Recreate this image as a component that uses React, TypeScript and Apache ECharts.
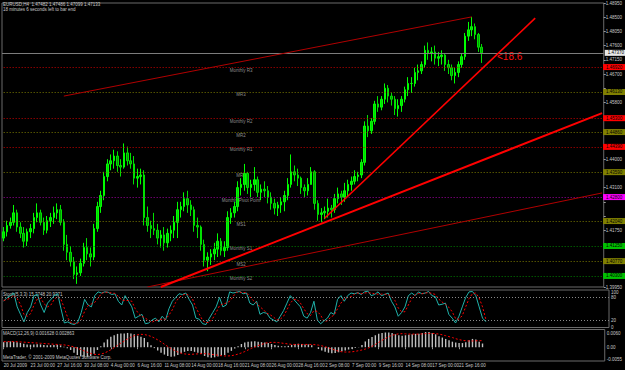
import React, { useEffect, useRef } from "react";
import * as echarts from "echarts";

// ---------- price data (8-hour bars, 20 Jul 08:00 .. 24 Sep 00:00) ----------
const firstOpen = 1.415;
const closes = [
  1.4170, 1.4190,
  1.4200, 1.4230, 1.4185, 1.4165, 1.4140, 1.4170, 1.4180, 1.4215, 1.4230, 1.4200, 1.4175, 1.4205,
  1.4215, 1.4230, 1.4240, 1.4200, 1.4130, 1.4105, 1.4075, 1.4035, 1.4040, 1.4070, 1.4120, 1.4100, 1.4090, 1.4180, 1.4250,
  1.4285, 1.4345, 1.4385, 1.4395, 1.4410, 1.4380, 1.4375, 1.4420, 1.4395, 1.4385, 1.4340, 1.4345, 1.4350, 1.4215, 1.4190,
  1.4180, 1.4175, 1.4150, 1.4160, 1.4135, 1.4165, 1.4175, 1.4200, 1.4240, 1.4250, 1.4275, 1.4255, 1.4240, 1.4190, 1.4185,
  1.4130, 1.4080, 1.4090, 1.4100, 1.4115, 1.4140, 1.4110, 1.4120, 1.4215, 1.4230, 1.4250, 1.4310, 1.4320, 1.4355, 1.4310,
  1.4320, 1.4335, 1.4295, 1.4305, 1.4300, 1.4280, 1.4260, 1.4245, 1.4255, 1.4265, 1.4285, 1.4320, 1.4360, 1.4350, 1.4340,
  1.4310, 1.4300, 1.4320, 1.4360, 1.4260, 1.4225, 1.4230, 1.4235, 1.4245, 1.4240, 1.4275, 1.4290, 1.4280, 1.4300, 1.4320,
  1.4330, 1.4345, 1.4350, 1.4390, 1.4505, 1.4490, 1.4520, 1.4575, 1.4565, 1.4590, 1.4625, 1.4600, 1.4590, 1.4560, 1.4570,
  1.4590, 1.4620, 1.4640, 1.4640, 1.4675, 1.4680, 1.4700, 1.4745, 1.4735, 1.4740, 1.4720, 1.4725, 1.4730, 1.4700, 1.4690,
  1.4665, 1.4675, 1.4700, 1.4725, 1.4790, 1.4810, 1.4820, 1.4795, 1.4755,
  1.4737,
];
const highs = [
  1.4185, 1.4205,
  1.4215, 1.4255, 1.4240, 1.4200, 1.4185, 1.4180, 1.4195, 1.4230, 1.4260, 1.4240, 1.4215, 1.4220,
  1.4230, 1.4250, 1.4260, 1.4255, 1.4210, 1.4160, 1.4125, 1.4090, 1.4060, 1.4085, 1.4135, 1.4150, 1.4120, 1.4195, 1.4265,
  1.4300, 1.4360, 1.4400, 1.4415, 1.4430, 1.4425, 1.4400, 1.4450, 1.4440, 1.4420, 1.4410, 1.4370, 1.4370, 1.4365, 1.4250,
  1.4205, 1.4230, 1.4195, 1.4175, 1.4185, 1.4180, 1.4190, 1.4220, 1.4265, 1.4265, 1.4295, 1.4300, 1.4270, 1.4250, 1.4215,
  1.4190, 1.4145, 1.4105, 1.4115, 1.4135, 1.4165, 1.4150, 1.4140, 1.4235, 1.4245, 1.4265, 1.4330, 1.4340, 1.4385, 1.4360,
  1.4335, 1.4375, 1.4345, 1.4320, 1.4330, 1.4315, 1.4295, 1.4275, 1.4265, 1.4280, 1.4300, 1.4340, 1.4415, 1.4380, 1.4370,
  1.4345, 1.4320, 1.4340, 1.4375, 1.4365, 1.4270, 1.4245, 1.4250, 1.4275, 1.4255, 1.4290, 1.4310, 1.4300, 1.4325, 1.4335,
  1.4345, 1.4365, 1.4360, 1.4400, 1.4520, 1.4540, 1.4530, 1.4585, 1.4600, 1.4600, 1.4640, 1.4635, 1.4610, 1.4600, 1.4590,
  1.4600, 1.4630, 1.4660, 1.4660, 1.4690, 1.4700, 1.4710, 1.4760, 1.4770, 1.4755, 1.4760, 1.4740, 1.4745, 1.4735, 1.4715,
  1.4700, 1.4690, 1.4710, 1.4735, 1.4800, 1.4835, 1.4851, 1.4830, 1.4800,
  1.4765,
];
const lows = [
  1.4140, 1.4155,
  1.4180, 1.4190, 1.4170, 1.4150, 1.4120, 1.4125, 1.4150, 1.4165, 1.4200, 1.4190, 1.4160, 1.4165,
  1.4185, 1.4195, 1.4210, 1.4190, 1.4110, 1.4080, 1.4060, 1.4020, 1.4005, 1.4030, 1.4060, 1.4080, 1.4060, 1.4080, 1.4170,
  1.4230, 1.4270, 1.4330, 1.4365, 1.4370, 1.4360, 1.4345, 1.4370, 1.4380, 1.4370, 1.4320, 1.4310, 1.4320, 1.4190, 1.4170,
  1.4150, 1.4160, 1.4130, 1.4120, 1.4110, 1.4120, 1.4140, 1.4150, 1.4150, 1.4215, 1.4235, 1.4230, 1.4220, 1.4170, 1.4150,
  1.4110, 1.4060, 1.4045, 1.4065, 1.4080, 1.4090, 1.4095, 1.4090, 1.4110, 1.4195, 1.4215, 1.4235, 1.4285, 1.4300, 1.4290,
  1.4280, 1.4300, 1.4280, 1.4270, 1.4280, 1.4260, 1.4240, 1.4225, 1.4220, 1.4230, 1.4235, 1.4270, 1.4310, 1.4330, 1.4315,
  1.4290, 1.4280, 1.4285, 1.4320, 1.4240, 1.4205, 1.4200, 1.4210, 1.4215, 1.4215, 1.4230, 1.4260, 1.4255, 1.4265, 1.4280,
  1.4300, 1.4320, 1.4330, 1.4340, 1.4380, 1.4470, 1.4480, 1.4510, 1.4550, 1.4555, 1.4575, 1.4580, 1.4570, 1.4540, 1.4535,
  1.4550, 1.4580, 1.4600, 1.4610, 1.4630, 1.4650, 1.4670, 1.4690, 1.4715, 1.4710, 1.4700, 1.4695, 1.4700, 1.4680, 1.4670,
  1.4650, 1.4640, 1.4660, 1.4690, 1.4715, 1.4775, 1.4790, 1.4780, 1.4740,
  1.4705,
];

// ---------- Stochastic(5,3,3) ----------
const stochMain = [
  70, 80, 85, 92, 55, 35, 15, 40, 55, 85, 88, 60,
  40, 65, 75, 85, 90, 50, 12, 15, 10, 8, 15, 40,
  75, 60, 55, 85, 95, 92, 95, 94, 88, 90, 70, 60,
  85, 70, 55, 25, 30, 35, 10, 12, 20, 25, 15, 30,
  20, 50, 70, 80, 90, 88, 92, 75, 60, 25, 22, 10,
  8, 25, 40, 55, 80, 55, 60, 95, 92, 94, 96, 90,
  92, 65, 60, 70, 35, 40, 38, 25, 20, 15, 30, 45,
  65, 85, 75, 65, 55, 30, 25, 40, 70, 20, 10, 18,
  25, 40, 35, 75, 85, 70, 85, 92, 90, 93, 88, 95,
  97, 85, 88, 95, 85, 88, 92, 70, 55, 30, 40, 55,
  85, 92, 85, 95, 90, 92, 96, 85, 82, 60, 62, 65,
  35, 25, 12, 30, 55, 80, 95, 96, 85, 55, 25, 15.37,
];
const stochSignal = [
  72, 75, 78, 86, 77, 61, 35, 30, 37, 60, 76, 78,
  63, 55, 60, 75, 83, 75, 51, 26, 12, 11, 11, 21,
  43, 58, 63, 67, 78, 91, 94, 94, 92, 91, 83, 73,
  72, 72, 70, 50, 37, 30, 25, 19, 14, 19, 20, 23,
  22, 33, 47, 67, 80, 86, 90, 85, 76, 53, 36, 19,
  13, 14, 24, 40, 58, 63, 65, 70, 82, 94, 94, 93,
  93, 82, 72, 65, 55, 48, 38, 34, 28, 20, 22, 30,
  47, 65, 75, 75, 65, 50, 37, 32, 45, 43, 33, 16,
  18, 28, 33, 50, 65, 77, 80, 82, 89, 92, 90, 92,
  93, 92, 90, 89, 89, 89, 88, 83, 72, 52, 42, 42,
  60, 77, 87, 91, 90, 92, 93, 91, 88, 76, 68, 62,
  54, 42, 24, 22, 32, 55, 77, 90, 92, 79, 55, 20.94,
];

// ---------- MACD(12,26,9), in units of 0.0001 ----------
const macdMain = [
  22, 24, 25, 24, 22, 19, 15, 12, 11, 12, 13, 12,
  10, 9, 9, 10, 11, 8, 2, -5, -12,
  -24, -34, -40, -44, -42, -38, -28,
  -12, 4, 20, 34, 45, 52, 58, 60, 60, 62, 60, 56, 50,
  46, 40, 22, 8, -4, -14, -24, -32,
  -38, -42, -40, -34, -26, -20, -16,
  -16, -20, -24, -30, -38, -44, -46,
  -44, -40, -36, -34, -24, -16, -6, 4,
  14, 20, 24, 25, 26, 24, 22, 20, 18, 14, 10, 6, 4, 4, 6, 10, 14, 15,
  14, 12, 12, 8, 0, -8, -14, -20, -24, -26, -25, -22, -18, -14, -10, -7, -4, -1,
  10, 25, 36, 44, 52, 58, 62, 64, 64, 62, 56, 52, 50, 52, 54, 56, 58, 58, 62, 66, 66,
  62, 56, 48, 42, 36, 30, 24, 20, 18, 18, 22, 30, 36, 34, 24, 16,
];
const macdSignal = [
  24, 24, 24, 24, 24, 23, 22, 21, 20, 19, 18, 17,
  16, 15, 14, 13, 12, 11, 10, 8, 5,
  1, -4, -10, -16, -22, -27, -31,
  -32, -30, -26, -19, -11, -2, 8, 18, 27, 36, 44, 50, 54,
  56, 55, 52, 47, 40, 32, 23, 13,
  3, -6, -14, -21, -26, -29, -31,
  -31, -30, -29, -28, -28, -29, -31,
  -33, -35, -37, -38, -38, -37, -34, -30,
  -25, -19, -12, -5, 1, 7, 12, 17, 20, 21, 21, 20, 18, 16, 14, 12, 12, 12,
  12, 12, 12, 12, 11, 9, 6, 2, -3, -8, -13, -17, -20, -21, -21, -20, -18, -15,
  -12, -8, -3, 4, 12, 21, 30, 38, 46, 52, 56, 58, 59, 58, 57, 57, 57, 57, 58, 59, 60,
  60, 59, 57, 54, 50, 46, 42, 37, 33, 30, 28, 27, 27, 28, 28, 29,
];

// ---------- monthly pivot levels ----------
const pivotNames = [
  "Monthly R3", "MR3", "Monthly R2", "MR2", "Monthly R1", "MR1",
  "Monthly Pivot Point", "MS1", "Monthly S1", "MS2", "Monthly S2",
];
const pivotPrices = [1.4692, 1.4613, 1.453, 1.4486, 1.4439, 1.4359, 1.428, 1.4204, 1.4125, 1.4077, 1.403];
const pivotKinds = ["r", "m", "r", "m", "r", "m", "p", "m", "s", "m", "s"];
const bidPrice = 1.4737;

// ---------- trend lines: [bar index, price] ----------
const trendUpperThin = [[18, 1.46], [140, 1.4851]];
const trendSteep = [[96, 1.4213], [159, 1.4847]];
const trendLongThick = [[47, 1.3995], [179, 1.4546]];
const trendLowerThin = [[43, 1.3995], [179, 1.4293]];

// ---------- time axis ----------
const dateTickLabels = [
  "20 Jul 2009", "23 Jul 00:00", "27 Jul 16:00", "30 Jul 08:00", "4 Aug 00:00", "6 Aug 16:00",
  "11 Aug 08:00", "14 Aug 00:00", "18 Aug 16:00", "21 Aug 08:00", "26 Aug 00:00", "28 Aug 16:00",
  "2 Sep 08:00", "7 Sep 00:00", "9 Sep 16:00", "14 Sep 08:00", "17 Sep 00:00", "21 Sep 16:00",
];
const dateTickStep = 8;
const slotCount = 180;
const pivotLabelIndex = 71;

const FONT = "Liberation Sans";
const TXT = "#c8c8c8";
const kindStyle: Record<string, { line: string; bg: string }> = {
  r: { line: "#c80000", bg: "#ff0000" },
  m: { line: "#7a7a00", bg: "#808000" },
  p: { line: "#a000a0", bg: "#ff00ff" },
  s: { line: "#008000", bg: "#00c000" },
};

export default function App() {
  const ref = useRef<HTMLDivElement>(null);
  useEffect(() => {
    document.body.style.margin = "0";
    document.body.style.background = "#000";
    if (!ref.current) return;
    const chart = echarts.init(ref.current, undefined, { renderer: "svg" });

    const categories = Array.from({ length: slotCount }, (_, i) => String(i));
    const candleData = closes.map((c, i) => [i === 0 ? firstOpen : closes[i - 1], c, lows[i], highs[i]]);
    const markedPrices = [bidPrice, ...pivotPrices];

    const isTick = (idx: number) => idx % dateTickStep === 0 && idx / dateTickStep < dateTickLabels.length;

    const tagLabel = (p: number, bg: string) => ({
      show: true, position: "end", distance: 1, formatter: p.toFixed(5),
      backgroundColor: bg, color: "#000", fontSize: 4.5, fontFamily: FONT, padding: [0.5, 3],
    });

    // each pivot level is a two-point line from the first to the last slot
    const pivotMarks: any[] = pivotPrices.map((p, i) => {
      const st = kindStyle[pivotKinds[i]];
      return [
        { coord: [0, p], lineStyle: { color: st.line, type: [1, 2], width: 1 }, label: tagLabel(p, st.bg) },
        { coord: [slotCount - 1, p] },
      ];
    });

    const xBase = (gi: number) => ({
      type: "category",
      gridIndex: gi,
      data: categories,
      boundaryGap: false,
      axisLine: { show: false },
      splitLine: { show: false },
      axisTick: { show: false },
      axisLabel: { show: false },
    });

    const lineSeries = (data: number[][], color: string, width: number) => ({
      type: "line",
      xAxisIndex: 0,
      yAxisIndex: 0,
      data,
      symbol: "none",
      lineStyle: { color, width },
      silent: true,
      z: 5,
    });

    const option: any = {
      animation: false,
      backgroundColor: "#000000",
      textStyle: { fontFamily: FONT },
      grid: [
        { left: 2, right: 16, top: 3, height: 284, show: true, borderColor: "#6a6a6a", borderWidth: 1, backgroundColor: "transparent" },
        { left: 2, right: 16, top: 290, height: 37.5, show: true, borderColor: "#6a6a6a", borderWidth: 1, backgroundColor: "transparent" },
        { left: 2, right: 16, top: 329.5, height: 31.5, show: true, borderColor: "#6a6a6a", borderWidth: 1, backgroundColor: "transparent" },
      ],
      xAxis: [
        { ...xBase(0), boundaryGap: true },
        { ...xBase(1), boundaryGap: true },
        {
          ...xBase(2),
          boundaryGap: true,
          axisTick: {
            show: true, alignWithLabel: true, length: 2,
            interval: (idx: number) => isTick(idx),
            lineStyle: { color: "#9a9a9a" },
          },
          axisLabel: {
            show: true, interval: 0, align: "left", margin: 2, fontSize: 4.5, fontFamily: FONT, color: TXT,
            formatter: (_v: string, idx: number) => (isTick(idx) ? dateTickLabels[idx / dateTickStep] : ""),
          },
        },
      ],
      yAxis: [
        {
          type: "value", gridIndex: 0, position: "right", min: 1.3995, max: 1.4895, interval: 0.0045,
          splitLine: { show: false }, axisLine: { show: false },
          axisTick: { show: true, length: 2, lineStyle: { color: "#9a9a9a" } },
          axisLabel: {
            fontSize: 4.5, fontFamily: FONT, color: TXT, margin: 2,
            formatter: (v: number) => (markedPrices.some((m) => Math.abs(m - v) < 0.0019) ? "" : v.toFixed(5)),
          },
        },
        {
          type: "value", gridIndex: 1, position: "right", min: 0, max: 100, interval: 20,
          splitLine: { show: false }, axisLine: { show: false }, axisTick: { show: false },
          axisLabel: {
            fontSize: 4.5, fontFamily: FONT, color: TXT, margin: 2,
            rich: { t: { fontSize: 4.5, fontFamily: FONT, color: TXT, padding: [4, 0, 0, 0] } },
            formatter: (v: number) => (v === 100 ? "{t|100}" : v === 0 || v === 20 || v === 80 ? String(v) : ""),
          },
        },
        {
          type: "value", gridIndex: 2, position: "right", min: -60, max: 77, interval: 5,
          splitLine: { show: false }, axisLine: { show: false }, axisTick: { show: false },
          axisLabel: {
            fontSize: 4.5, fontFamily: FONT, color: TXT, margin: 2,
            formatter: (v: number) => (v === 60 || v === -55 ? (v / 10000).toFixed(4) : v === 0 ? "0.00" : ""),
          },
        },
      ],
      series: [
        {
          type: "candlestick",
          xAxisIndex: 0,
          yAxisIndex: 0,
          data: candleData,
          barWidth: 2,
          itemStyle: {
            color: "#00d800", color0: "#009a00",
            borderColor: "#00ff00", borderColor0: "#00e000", borderWidth: 1,
          },
          markLine: {
            silent: true, precision: 5, symbol: ["none", "none"],
            data: [{
              yAxis: bidPrice,
              lineStyle: { color: "#7c7c7c", type: "solid", width: 1 },
              label: tagLabel(bidPrice, "#e8e8e8"),
            }],
          },
          z: 3,
        },
        {
          type: "scatter",
          xAxisIndex: 0,
          yAxisIndex: 0,
          data: pivotPrices.map((p, i) => ({ value: [pivotLabelIndex, p], name: pivotNames[i] })),
          symbolSize: 1,
          itemStyle: { color: "rgba(0,0,0,0)" },
          silent: true,
          label: {
            show: true, position: "bottom", distance: 0, formatter: "{b}",
            color: "#b4b4b4", fontSize: 4.5, fontFamily: FONT,
          },
          markLine: { silent: true, precision: 5, symbol: ["none", "none"], data: pivotMarks },
        },
        {
          ...lineSeries(trendUpperThin, "#b00000", 1),
          symbol: "rect",
          symbolSize: 3,
          showSymbol: true,
          data: [
            { value: trendUpperThin[0], itemStyle: { color: "#ff2020" } },
            { value: trendUpperThin[1], itemStyle: { color: "#ff8080" } },
          ],
        },
        lineSeries(trendLowerThin, "#b00000", 1),
        lineSeries(trendLongThick, "#ff0000", 2),
        lineSeries(trendSteep, "#ff0000", 1.6),
        {
          type: "line", xAxisIndex: 1, yAxisIndex: 1, data: stochMain, symbol: "none",
          lineStyle: { color: "#20b2aa", width: 1 }, silent: true,
          markLine: {
            silent: true, symbol: ["none", "none"], label: { show: false },
            lineStyle: { color: "#8a8a8a", type: [1, 2], width: 1 },
            data: [{ yAxis: 80 }, { yAxis: 20 }],
          },
        },
        {
          type: "line", xAxisIndex: 1, yAxisIndex: 1, data: stochSignal, symbol: "none",
          lineStyle: { color: "#ff0000", width: 1, type: [2, 2] }, silent: true,
        },
        {
          type: "bar", xAxisIndex: 2, yAxisIndex: 2, data: macdMain, barWidth: 1.4,
          itemStyle: { color: "#c0c0c0" }, silent: true,
        },
        {
          type: "line", xAxisIndex: 2, yAxisIndex: 2, data: macdSignal, symbol: "none",
          lineStyle: { color: "#ff0000", width: 1, type: [2, 2] }, silent: true, z: 4,
        },
      ],
      graphic: [
        { type: "text", left: 3, top: 1.5, style: { text: "EURUSD,H4  1.47482 1.47486 1.47099 1.47133", fill: TXT, fontSize: 4.5, fontFamily: FONT } },
        { type: "text", left: 3, top: 6.5, style: { text: "18 minutes 6 seconds left to bar end", fill: TXT, fontSize: 4.5, fontFamily: FONT } },
        { type: "text", left: 497, top: 51, style: { text: "<18.6", fill: "#ff1010", fontSize: 10, fontFamily: FONT } },
        { type: "text", left: 3, top: 291.5, style: { text: "Stoch(5,3,3) 15.3748 20.9371", fill: TXT, fontSize: 4.5, fontFamily: FONT } },
        { type: "text", left: 3, top: 331, style: { text: "MACD(12,26,9) 0.001628 0.002863", fill: TXT, fontSize: 4.5, fontFamily: FONT } },
        { type: "text", left: 3, top: 354.5, style: { text: "MetaTrader, © 2001-2009 MetaQuotes Software Corp.", fill: TXT, fontSize: 4.5, fontFamily: FONT } },
      ],
    };

    chart.setOption(option);
    return () => chart.dispose();
  }, []);

  return (
    <div
      ref={ref}
      style={{ position: "fixed", left: 0, top: 0, width: 625, height: 370, background: "#000" }}
    />
  );
}
